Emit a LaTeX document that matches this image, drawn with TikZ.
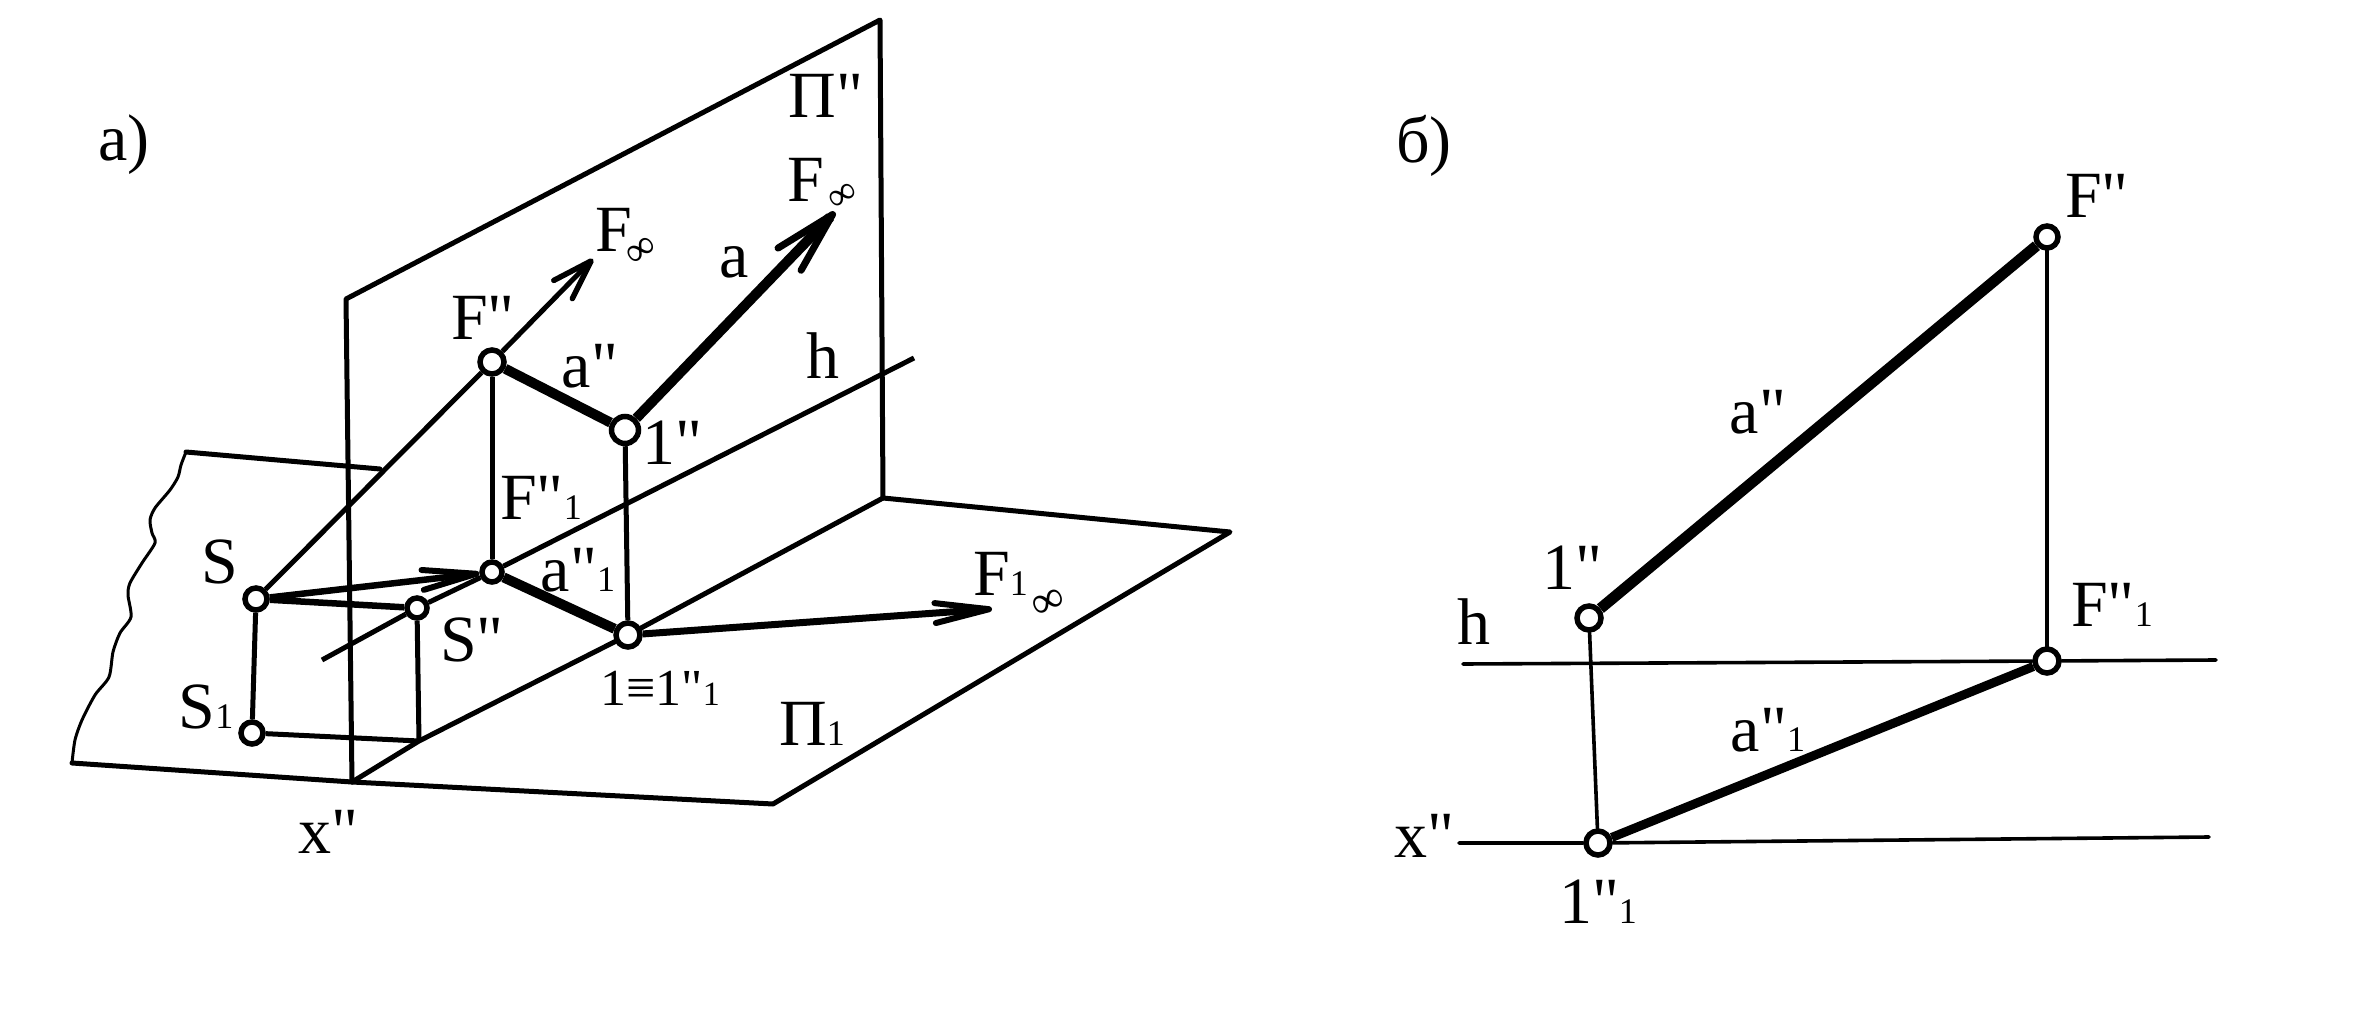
\documentclass[tikz,border=0pt]{standalone}
\usepackage{fontspec}
\setmainfont{Liberation Serif}[Ligatures=TeXOff]
\usetikzlibrary{arrows.meta,shapes.geometric}
\newcommand{\lowone}{{\fontsize{36}{40}\selectfont 1}}
% #1 kern, #2 raise, #3 size, #4 angle
\newcommand{\infsym}[4]{\kern#1{\fontsize{#3}{#3}\selectfont\raisebox{#2}{\rotatebox[origin=c]{#4}{∞}}}}
\tikzset{
  plane/.style={line width=5pt,line cap=round,line join=round},
  thin line/.style={line width=3.6pt,line cap=round},
  fine edge/.style={line width=3pt,line join=round},
  heavy/.style={line width=10pt},
  medium/.style={line width=5pt},
  pt/.style={circle,draw,fill=white,line width=5.5pt,inner sep=0pt,minimum size=24pt},
  smallpt/.style={pt,minimum size=20pt},
  lbl/.style={inner sep=0pt,font=\fontsize{66}{72}\selectfont},
  tip/.style={-{Straight Barb[length=40pt,width=26pt,line width=5.5pt,round]}},
  longtip/.style={-{Straight Barb[length=54pt,width=20pt,line width=6pt,round]}},
  bigtip/.style={-{Straight Barb[length=62pt,width=32pt,line width=7pt,round]}}
}
\begin{document}
\begin{tikzpicture}[x=1pt,y=-1pt]
\useasboundingbox (0,0) rectangle (2362,1024);
% --- a) coordinates
\coordinate (TL) at (346,299);
\coordinate (TR) at (880,20);
\coordinate (BR) at (883,498);
\coordinate (X) at (352,782);
\coordinate (HL) at (72,763);
\coordinate (HB) at (773,804);
\coordinate (HR) at (1230,532);
\coordinate (Back) at (186,452);
\coordinate (BackE) at (380,469);
\coordinate (Foot) at (419,741);
\coordinate (Finf) at (593,259);
\coordinate (Ainf) at (835,212);
\coordinate (hL) at (322,660);
\coordinate (hR) at (914,358);
\coordinate (F1inf) at (992,609);
% --- a) points
\node[pt] (Fp) at (492,362) {};
\node[pt,minimum size=27pt] (One) at (625,430) {};
\node[smallpt] (Fp1) at (492,572) {};
\node[pt] (Oneq) at (628,635) {};
\node[smallpt,minimum size=22pt] (S) at (256,599) {};
\node[smallpt] (Spp) at (417,608) {};
\node[smallpt,minimum size=22pt] (S1) at (252,733) {};
% --- a) planes
\draw[plane] (X) -- (TL) -- (TR) -- (BR) -- (Oneq);
\draw[plane] (Oneq) -- (Foot) -- (X);
\draw[plane] (BR) -- (HR) -- (HB) -- (X) -- (HL);
\draw[plane] (Back) -- (BackE);
\draw[fine edge] plot[smooth,tension=.45] coordinates {(186,452) (181,465) (178,477) (170,490) (155,508) (150,520) (152,533) (155,543) (142,563) (130,583) (128,595) (131,617) (120,633) (113,652) (109,677) (95,695) (82,720) (75,740) (72,763)};
% --- a) construction lines
\draw[medium] (S) -- (Fp);
\draw[medium] (hL) -- (Spp);
\draw[medium] (Spp) -- (Fp1);
\draw[medium] (Fp1) -- (hR);
\draw[medium] (Fp) -- (Fp1);
\draw[medium] (One) -- (Oneq);
\draw[medium] (S) -- (S1);
\draw[medium] (Spp) -- (Foot);
\draw[medium] (S1) -- (Foot);
\draw[line width=6.5pt] (S) -- (Spp);
\draw[line width=6.5pt,longtip] (S) -- (Fp1);
\draw[medium,tip] (Fp) -- (Finf);
\draw[line width=7pt,longtip] (Oneq) -- (F1inf);
\draw[heavy] (Fp) -- (One);
\draw[heavy] (Fp1) -- (Oneq);
\draw[heavy,bigtip] (One) -- (Ainf);
% --- a) labels
\node[lbl] (la) at (124,145) {a)};
\node[lbl] (lPi) at (826,96) {Π"};
\node[lbl,anchor=base west] (lFr) at (787,202) {F\infsym{2pt}{-4pt}{40}{32}};
\node[lbl,anchor=base west] (lFl) at (595,252) {F\infsym{-8pt}{-10pt}{42}{35}};
\node[lbl] (lA) at (734,262) {a};
\node[lbl] (lFp) at (483,318) {F"};
\node[lbl] (lApp) at (590,366) {a"};
\node[lbl] (lH) at (823,356) {h};
\node[lbl] (l1) at (672,443) {1"};
\node[lbl] (lFp1) at (541,498) {F"\lowone};
\node[lbl] (lApp1) at (578,570) {a"\lowone};
\node[lbl] (lS) at (220,562) {S};
\node[lbl] (lSpp) at (472,640) {S"};
\node[lbl] (lS1) at (206,707) {S\lowone};
\node[lbl,font=\fontsize{52}{56}\selectfont] (lEq) at (660,688) {1≡1"{\fontsize{34}{36}\selectfont 1}};
\node[lbl] (lP1) at (812,724) {Π\lowone};
\node[lbl,anchor=base west] (lF1) at (973,595) {F\lowone\infsym{2pt}{-20pt}{46}{24}};
\node[lbl] (lX) at (328,832) {x"};
% --- b) coordinates and points
\coordinate (bhL) at (1463,664);
\coordinate (bhR) at (2216,660);
\coordinate (bxL) at (1459,843);
\coordinate (bxR) at (2209,837);
\node[pt,minimum size=22pt] (bF) at (2047,237) {};
\node[pt,minimum size=24pt] (b1) at (1589,618) {};
\node[pt,minimum size=24pt,shape=ellipse,inner sep=0pt] (bF1) at (2047,661) {};
\node[pt,minimum size=24pt] (b11) at (1598,843) {};
% --- b) lines
\draw[thin line] (bhL) -- (bF1) -- (bhR);
\draw[thin line] (bxL) -- (b11) -- (bxR);
\draw[thin line] (b1) -- (b11);
\draw[thin line] (bF) -- (bF1);
\draw[line width=11pt] (b1) -- (bF);
\draw[line width=9pt] (b11) -- (bF1);
% --- b) labels
\node[lbl] (bla) at (1424,146) {б)};
\node[lbl] (blF) at (2097,196) {F"};
\node[lbl] (blA) at (1758,412) {a"};
\node[lbl] (bl1) at (1572,568) {1"};
\node[lbl] (blF1) at (2112,605) {F"\lowone};
\node[lbl] (blH) at (1474,622) {h};
\node[lbl] (blA1) at (1768,730) {a"\lowone};
\node[lbl] (blX) at (1424,836) {x"};
\node[lbl] (bl11) at (1598,902) {1"\lowone};
\end{tikzpicture}
\end{document}
